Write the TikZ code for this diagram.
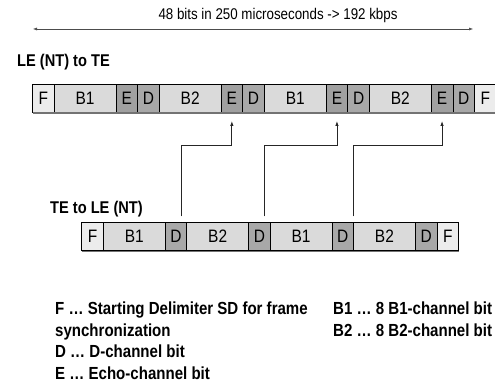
\documentclass[tikz,border=0pt]{standalone}
\usepackage{fontspec}
\setmainfont{Liberation Sans}[FakeStretch=0.86]
\usetikzlibrary{positioning,arrows.meta}
\definecolor{fgray}{RGB}{236,236,236}
\definecolor{bgray}{RGB}{218,218,218}
\definecolor{egray}{RGB}{160,160,160}
\definecolor{dgray}{RGB}{168,168,168}

\begin{document}
\begin{tikzpicture}[
    x=1pt, y=1pt,
    node distance=0pt,
    cell/.style={rectangle, draw=black, line width=0.8pt, minimum height=28pt, inner sep=0pt, outer sep=0pt, font=\fontsize{18}{20}\selectfont},
    fcell/.style={cell, fill=fgray, minimum width=21.7pt},
    bcell/.style={cell, fill=bgray, minimum width=61.7pt},
    ecell/.style={cell, fill=egray, minimum width=21.7pt},
    dcell/.style={cell, fill=dgray, minimum width=21.7pt},
    rowlabel/.style={anchor=west, inner sep=0pt, font=\fontsize{17}{20}\selectfont\bfseries},
    legend/.style={anchor=north west, align=left, inner sep=0pt, font=\fontsize{17.5}{21.5}\selectfont\bfseries},
    shadowline/.style={line width=1.4pt, black!55},
    echo/.style={-{Latex[length=5pt,width=3.5pt]}, line width=0.8pt, black!85},
    span/.style={{Latex[length=4pt,width=3pt]}-{Latex[length=4pt,width=3pt]}, line width=0.5pt, black!70}
]
\useasboundingbox (0,0) rectangle (495,-387);

% frame length
\node[font=\fontsize{15.5}{18}\selectfont] (title) at (278,-15) {48 bits in 250 microseconds -> 192 kbps};
\coordinate (spanl) at (33,-29);
\coordinate (spanr) at (473,-29);
\draw[span] (spanl) -- (spanr);

% LE (NT) to TE
\node[rowlabel] (toplabel) at (17,-62) {LE (NT) to TE};
\node[fcell, anchor=north west] (tf1) at (32.5,-84) {F};
\node[bcell, right=of tf1] (tb1) {B1};
\node[ecell, right=of tb1] (te1) {E};
\node[dcell, right=of te1] (td1) {D};
\node[bcell, right=of td1] (tb2) {B2};
\node[ecell, right=of tb2] (te2) {E};
\node[dcell, right=of te2] (td2) {D};
\node[bcell, right=of td2] (tb3) {B1};
\node[ecell, right=of tb3] (te3) {E};
\node[dcell, right=of te3] (td3) {D};
\node[bcell, right=of td3] (tb4) {B2};
\node[ecell, right=of tb4] (te4) {E};
\node[dcell, right=of te4] (td4) {D};
\node[fcell, right=of td4] (tf2) {F};
\draw[shadowline] ([yshift=-1.1pt]tf1.south west) -- ([yshift=-1.1pt]tf2.south east);

% TE to LE (NT)
\node[rowlabel] (botlabel) at (50,-209) {TE to LE (NT)};
\node[fcell, anchor=north west] (bf1) at (81.7,-222.3) {F};
\node[bcell, right=of bf1] (bb1) {B1};
\node[dcell, right=of bb1] (bd1) {D};
\node[bcell, right=of bd1] (bb2) {B2};
\node[dcell, right=of bb2] (bd2) {D};
\node[bcell, right=of bd2] (bb3) {B1};
\node[dcell, right=of bb3] (bd3) {D};
\node[bcell, right=of bd3] (bb4) {B2};
\node[dcell, right=of bb4] (bd4) {D};
\node[fcell, right=of bd4] (bf2) {F};
\draw[shadowline] ([yshift=-1.1pt]bf1.south west) -- ([yshift=-1.1pt]bf2.south east);

% echo of the D bits
\draw[echo] ([xshift=5pt,yshift=6pt]bd1.north) |- ([yshift=-33pt]te2.south) -- ([yshift=-9pt]te2.south);
\draw[echo] ([xshift=5.5pt,yshift=6pt]bd2.north) |- ([yshift=-33pt]te3.south) -- ([yshift=-9pt]te3.south);
\draw[echo] ([xshift=10.5pt,yshift=6pt]bd3.north) |- ([yshift=-33pt]te4.south) -- ([yshift=-9pt]te4.south);

% key
\node[legend] (keyleft) at (55,-302) {F \dots{} Starting Delimiter SD for frame\\synchronization\\D \dots{} D-channel bit\\E \dots{} Echo-channel bit};
\node[legend] (keyright) at (333,-302) {B1 \dots{} 8 B1-channel bit\\B2 \dots{} 8 B2-channel bit};

\end{tikzpicture}
\end{document}
